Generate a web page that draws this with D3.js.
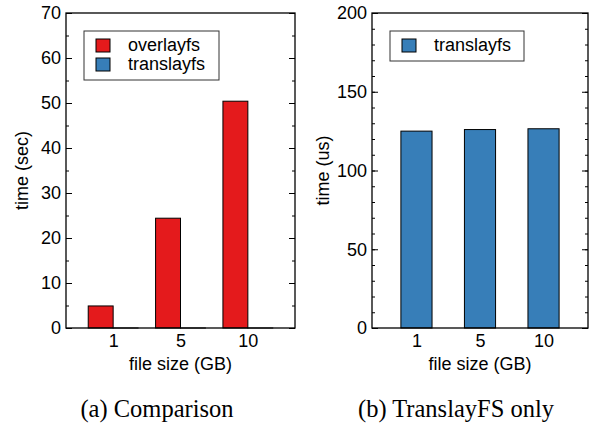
<!DOCTYPE html>
<html>
<head>
<meta charset="utf-8">
<script src="https://cdn.jsdelivr.net/npm/d3@7"></script>
<style>
  body { margin: 0; background: #fff; }
  svg text { font-family: "Liberation Sans", Arial, sans-serif; }
</style>
</head>
<body>
<svg id="chart" width="589" height="430"></svg>
<script>
// data
const fileSizes = ["1", "5", "10"];
const overlayfsSec = [4.9, 24.4, 50.4];
const translayfsSec = [0.000125, 0.000126, 0.000127];
const translayfsUs = [125, 126, 126.5];

const seriesNames = ["overlayfs", "translayfs"];
const seriesColors = ["#e41a1c", "#377eb8"];

const svg = d3.select("#chart");

function drawPanel(opt) {
  const g = svg.append("g").attr("transform", "translate(" + opt.left + "," + opt.top + ")");
  const w = opt.width, h = opt.height;

  const x = d3.scaleLinear().domain([-0.7, fileSizes.length - 0.3]).range([0, w]);
  const y = d3.scaleLinear().domain([0, opt.ymax]).range([h, 0]);

  // minor ticks, left and right (inward)
  const minor = d3.range(0, opt.ymax + 0.001, opt.minorStep);
  g.append("g").call(d3.axisLeft(y).tickValues(minor).tickSize(-3).tickFormat(""))
    .call(a => a.select(".domain").remove());
  g.append("g").attr("transform", "translate(" + w + ",0)")
    .call(d3.axisRight(y).tickValues(minor).tickSize(-3).tickFormat(""))
    .call(a => a.select(".domain").remove());

  // major ticks
  g.append("g").call(d3.axisLeft(y).ticks(opt.ymax / opt.majorStep).tickSize(-6).tickPadding(5))
    .call(a => a.select(".domain").remove())
    .call(a => a.selectAll("text").attr("font-size", 18).attr("fill", "#000")
      .attr("font-family", "Liberation Sans, Arial, sans-serif"));
  g.append("g").attr("transform", "translate(" + w + ",0)")
    .call(d3.axisRight(y).ticks(opt.ymax / opt.majorStep).tickSize(-6).tickFormat(""))
    .call(a => a.select(".domain").remove());

  // bars
  const nSeries = opt.series.length;
  opt.series.forEach((s, si) => {
    g.selectAll(".bar" + si)
      .data(s.values)
      .enter().append("rect")
      .attr("x", (d, i) => x(i - nSeries * opt.barW / 2 + si * opt.barW))
      .attr("width", x(opt.barW) - x(0))
      .attr("y", d => y(d))
      .attr("height", d => h - y(d))
      .attr("fill", s.color)
      .attr("stroke", "#000")
      .attr("stroke-width", 1);
  });

  // x labels
  g.append("g").attr("transform", "translate(0," + h + ")")
    .call(d3.axisBottom(x).tickValues(d3.range(fileSizes.length)).tickFormat(i => fileSizes[i])
      .tickSize(0).tickPadding(6))
    .call(a => a.select(".domain").remove())
    .call(a => a.selectAll("text").attr("font-size", 18).attr("fill", "#000")
      .attr("font-family", "Liberation Sans, Arial, sans-serif"));

  // frame
  g.append("rect").attr("width", w).attr("height", h)
    .attr("fill", "none").attr("stroke", "#000").attr("stroke-width", 1.3);

  // legend
  const lg = g.append("g").attr("transform", "translate(18,18)");
  lg.append("rect").attr("width", opt.legendW).attr("height", 12 + 19 * opt.legend.length - 1)
    .attr("fill", "#fff").attr("stroke", "#333").attr("stroke-width", 1);
  opt.legend.forEach((s, i) => {
    lg.append("rect").attr("x", 12).attr("y", 8 + i * 19).attr("width", 14).attr("height", 13)
      .attr("fill", s.color).attr("stroke", "#000").attr("stroke-width", 1);
    lg.append("text").attr("x", 44).attr("y", 20 + i * 19).attr("font-size", 18)
      .text(s.name);
  });

  // axis titles
  g.append("text").attr("x", w / 2).attr("y", h + 42).attr("text-anchor", "middle")
    .attr("font-size", 18).text("file size (GB)");
  g.append("text").attr("transform", "translate(" + opt.ylabelX + "," + (h / 2) + ") rotate(-90)")
    .attr("text-anchor", "middle").attr("font-size", 18).text(opt.ylabel);

  // caption
  svg.append("text").attr("x", opt.left + opt.captionDx).attr("y", 417)
    .attr("text-anchor", "middle").attr("font-size", 24.5)
    .style("font-family", "'Liberation Serif', 'Times New Roman', serif")
    .text(opt.caption);
}

drawPanel({
  left: 66, top: 13, width: 229, height: 315,
  ymax: 70, majorStep: 10, minorStep: 5,
  barW: 0.37,
  series: [
    { values: overlayfsSec, color: seriesColors[0] },
    { values: translayfsSec, color: seriesColors[1] }
  ],
  legend: [
    { name: seriesNames[0], color: seriesColors[0] },
    { name: seriesNames[1], color: seriesColors[1] }
  ],
  legendW: 135,
  ylabel: "time (sec)", ylabelX: -38,
  caption: "(a) Comparison", captionDx: 91
});

drawPanel({
  left: 372, top: 13, width: 216, height: 315,
  ymax: 200, majorStep: 50, minorStep: 10,
  barW: 0.49,
  series: [
    { values: translayfsUs, color: seriesColors[1] }
  ],
  legend: [
    { name: seriesNames[1], color: seriesColors[1] }
  ],
  legendW: 134,
  ylabel: "time (us)", ylabelX: -43,
  caption: "(b) TranslayFS only", captionDx: 84
});
</script>
</body>
</html>
